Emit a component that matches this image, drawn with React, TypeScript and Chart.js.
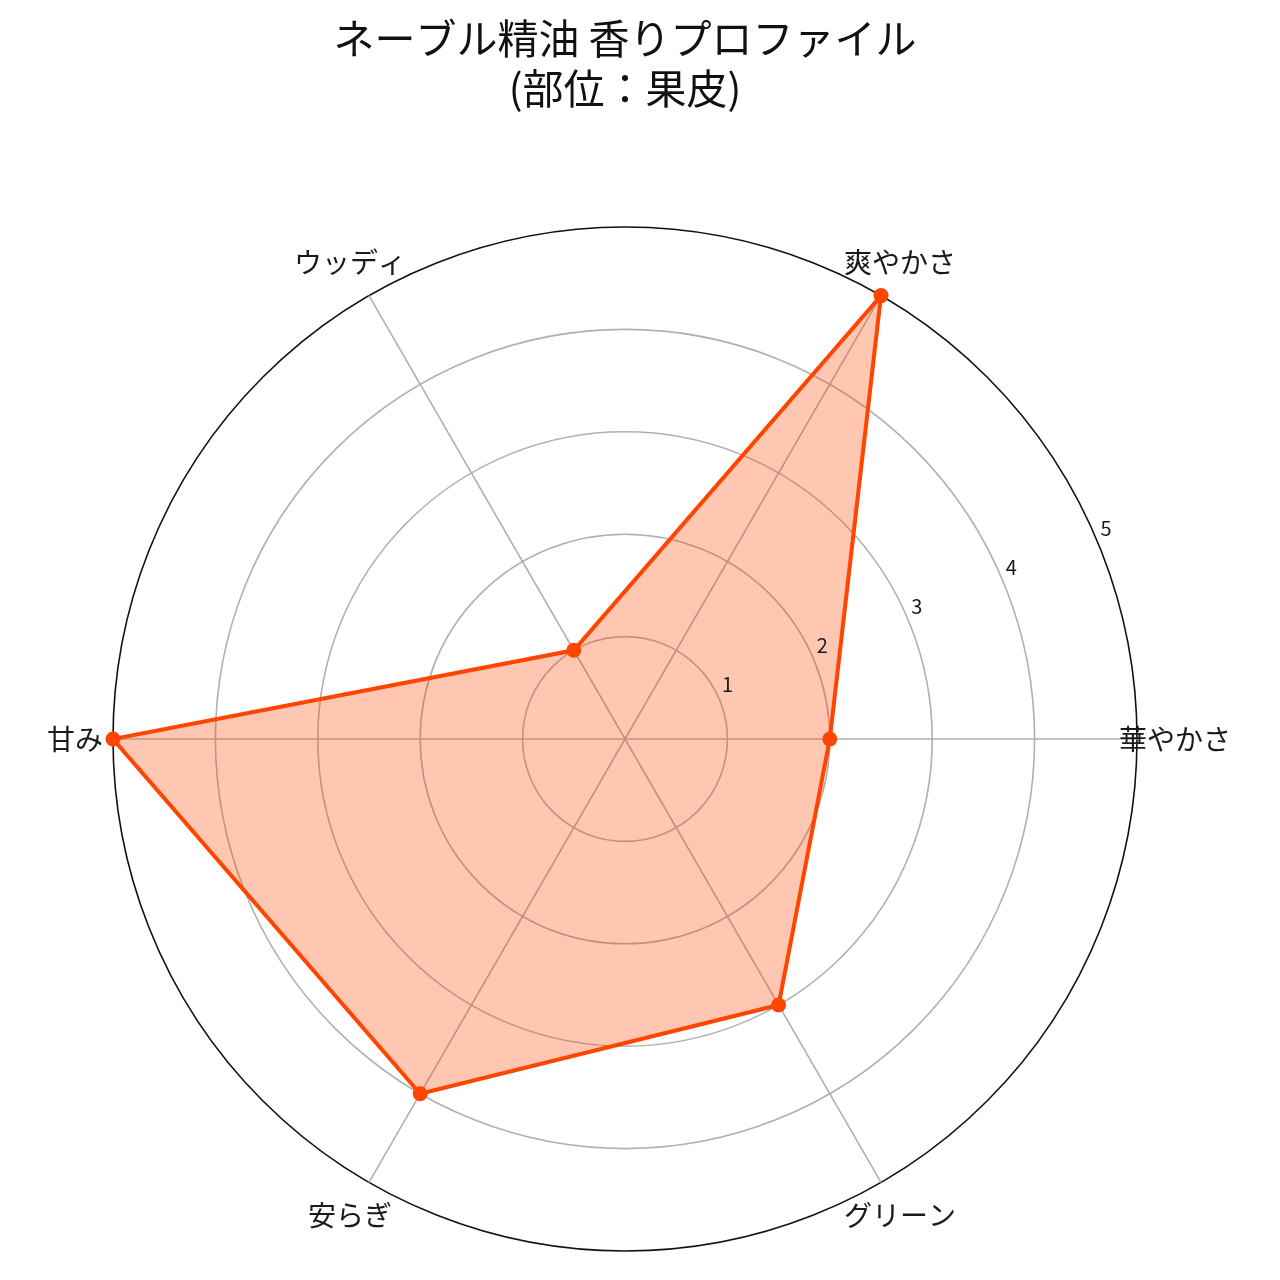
import { useEffect, useRef } from 'react';
import { Chart, ChartConfiguration, Plugin, RadialLinearScale } from 'chart.js/auto';

// categories in matplotlib order (counter-clockwise from the right)
const categories = ['華やかさ', '爽やかさ', 'ウッディ', '甘み', '安らぎ', 'グリーン'];
const scores = [2, 5, 1, 5, 4, 3];
const tickValues = [1, 2, 3, 4, 5];
const titleLines = ['ネーブル精油 香りプロファイル', '(部位：果皮)'];

const FONT = '"Noto Sans CJK JP", "Noto Sans", sans-serif';
const LINE = '#FF4500';

// Chart.js goes clockwise, so keep the first item and reverse the rest
const order = [0, ...categories.map((_, i) => i).slice(1).reverse()];
const labels = order.map(i => categories[i]);
const values = order.map(i => scores[i]);

const polarText: Plugin<'radar'> = {
  id: 'polarText',
  afterDraw(chart) {
    const scale = chart.scales.r as RadialLinearScale;
    const ctx = chart.ctx;
    ctx.save();
    ctx.fillStyle = '#1a1a1a';
    ctx.textAlign = 'center';
    ctx.textBaseline = 'middle';

    // radial tick labels along 22.5 degrees
    ctx.font = `20px ${FONT}`;
    const a = (22.5 * Math.PI) / 180;
    tickValues.forEach(v => {
      const d = scale.getDistanceFromCenterForValue(v);
      ctx.fillText(String(v), scale.xCenter + d * Math.cos(a) + 8, scale.yCenter - d * Math.sin(a) - 15);
    });

    // category labels centred just outside the outer ring
    ctx.font = `28px ${FONT}`;
    labels.forEach((label, i) => {
      const p = scale.getPointPosition(i, scale.drawingArea + 38);
      ctx.fillText(label, p.x, p.y);
    });
    ctx.restore();
  }
};

export default function App() {
  const chartRef = useRef<HTMLCanvasElement>(null);
  const chartInstance = useRef<Chart | null>(null);

  useEffect(() => {
    if (!chartRef.current) return;

    const config: ChartConfiguration<'radar'> = {
      type: 'radar',
      data: {
        labels,
        datasets: [{
          label: 'ネーブル',
          data: values,
          borderColor: LINE,
          backgroundColor: 'rgba(255, 69, 0, 0.3)',
          borderWidth: 4,
          pointRadius: 7.5,
          pointBackgroundColor: LINE,
          pointBorderColor: LINE,
          pointBorderWidth: 0,
          fill: true,
          tension: 0
        }]
      },
      options: {
        responsive: false,
        animation: false,
        layout: {
          padding: { left: 113, right: 143, top: 0, bottom: 29 }
        },
        scales: {
          r: {
            min: 0,
            max: 5,
            startAngle: 90,
            ticks: { display: false, stepSize: 1 },
            pointLabels: { display: false },
            grid: {
              circular: true,
              color: ctx => (ctx.tick && ctx.tick.value === 5 ? '#111' : '#b0b0b0'),
              lineWidth: 1.6
            },
            angleLines: { color: '#b0b0b0', lineWidth: 1.6 }
          }
        },
        plugins: {
          legend: { display: false },
          tooltip: { enabled: false },
          title: {
            display: true,
            text: titleLines,
            color: '#111',
            font: { family: FONT, size: 41, weight: 'normal', lineHeight: '50px' },
            padding: { top: 13, bottom: 114 }
          }
        }
      },
      plugins: [polarText]
    };

    if (chartInstance.current) {
      chartInstance.current.destroy();
    }
    chartInstance.current = new Chart(chartRef.current, config);

    return () => {
      if (chartInstance.current) {
        chartInstance.current.destroy();
        chartInstance.current = null;
      }
    };
  }, []);

  return (
    <div style={{ position: 'fixed', left: 0, top: 0, width: 1280, height: 1280, background: '#fff' }}>
      <canvas ref={chartRef} width={1280} height={1280} />
    </div>
  );
}
